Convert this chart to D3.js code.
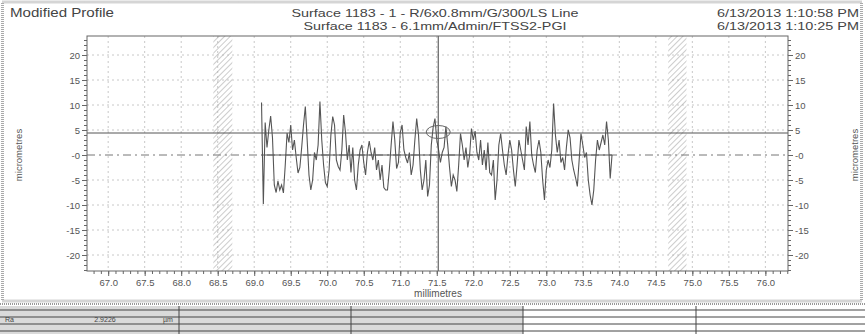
<!DOCTYPE html>
<html>
<head>
<meta charset="utf-8">
<script src="https://cdn.jsdelivr.net/npm/d3@7"></script>
<style>
  body { margin: 0; background: #fff; }
  svg { font-family: "Liberation Sans", Arial, sans-serif; }
  .tick text { fill: #555; }
</style>
</head>
<body>
<svg class="profileChart" width="865" height="334"></svg>
<script>
// profile samples, 0.025 mm apart starting at 69.1 mm (micrometres)
const profileStart = 69.1;
const profileStep = 0.025;
const profileValues = [
  10.5, -9.8, 6.5, 1.5, 5.0, 7.8, 3.5, -6.0, -7.5, -5.2,
  -7.0, -6.0, -7.6, -2.0, 4.4, 2.5, 6.0, 1.0, 3.0, -0.5,
  -3.6, -2.5, 1.5, 6.0, 9.7, 3.0, -4.0, -7.0, -5.0, 0.5,
  -1.0, 2.0, 10.7, 3.0, -2.0, -5.5, -6.3, -3.0, 4.0, 7.7,
  6.0, -1.0, -2.3, -3.0, 1.0, 8.0, 4.5, -1.0, 2.0, -3.5,
  1.5, -5.0, -7.0, -2.0, 1.0, 2.0, -1.5, -4.0, 0.5, 2.8,
  0.5, -1.0, 1.5, -3.0, -1.0, -5.0, -2.0, -6.5, -7.0, -7.0,
  -3.0, 2.0, 6.7, 3.0, -2.7, -1.5, 4.5, 6.0, 1.0, -0.5,
  -1.6, 0.5, -4.0, -2.0, 3.0, 7.3, 4.0, -3.0, -7.0, -5.0,
  -1.0, -8.3, -6.0, 2.0, 5.5, 7.3, 3.0, 1.0, -1.5, 0.5,
  1.5, 5.7, 2.0, -2.5, -6.3, -4.0, -5.0, -7.3, -2.0, 4.3,
  2.0, -1.0, 1.5, -2.5, 0.0, 5.3, 3.0, 4.8, 0.5, -1.0,
  3.0, -2.0, 1.0, -3.0, 2.5, -3.5, -4.0, -1.0, -9.0, -5.0,
  2.0, 4.3, 1.0, -2.0, -4.0, 0.0, 3.0, 1.0, -3.0, -6.3,
  -2.0, 3.0, 1.0, -1.0, -3.0, 5.7, 2.0, 6.7, 0.0, -2.0,
  -3.5, 1.0, 3.0, 0.5, -5.0, -9.0, -3.0, -1.0, -2.5, 1.0,
  10.3, 4.0, 0.5, 3.0, -1.5, -0.5, -3.0, 1.5, 5.0, 3.5,
  -1.0, -3.0, -4.5, -6.3, -1.0, 4.3, 2.0, -0.5, 0.5, -5.0,
  -8.0, -10.0, -7.0, -1.0, 3.0, 1.0, 2.5, 4.0, 2.0, 6.7,
  3.0, -4.7, 0.0
];

const xDomain = [66.71, 76.31];
const yDomain = [-23.2, 23.8];
const xMajorTicks = d3.range(67, 76.01, 0.5);
const xMinorTicks = d3.range(66.8, 76.31, 0.1);
const yMajorTicks = [20, 15, 10, 5, 0, -5, -10, -15, -20];
const yMinorTicks = d3.range(-23, 24, 1);
const hatchBands = [[68.44, 68.70], [74.67, 74.92]];
const cursorX = 71.52;
const cursorY = 4.4;
const titleLines = ["Surface 1183 - 1 - R/6x0.8mm/G/300/LS Line", "Surface 1183 - 6.1mm/Admin/FTSS2-PGI"];
const dateLines = ["6/13/2013 1:10:58 PM", "6/13/2013 1:10:25 PM"];
const tableCols = [179, 351, 523, 696];
const tableRows = [310, 317, 324, 331];

const svg = d3.select(".profileChart");
const plot = { left: 87, right: 788, top: 36, bottom: 271 };

const x = d3.scaleLinear().domain(xDomain).range([plot.left, plot.right]);
const y = d3.scaleLinear().domain(yDomain).range([plot.bottom, plot.top]);

// hatch pattern for the excluded bands
const defs = svg.append("defs");
const pat = defs.append("pattern")
    .attr("id", "hatch")
    .attr("patternUnits", "userSpaceOnUse")
    .attr("width", 4).attr("height", 4)
    .attr("patternTransform", "rotate(45)");
pat.append("line")
    .attr("x1", 0).attr("y1", 0).attr("x2", 0).attr("y2", 4)
    .attr("stroke", "#aaa").attr("stroke-width", 1.2);

// outer frame of the report
svg.append("rect")
    .attr("x", 2.5).attr("y", 2).attr("width", 859).attr("height", 299)
    .attr("fill", "none").attr("stroke", "#aaa")
    .attr("stroke-width", 3).attr("stroke-dasharray", "1,1");

// titles (the reference text is stretched wide, so fix widths)
svg.append("text").attr("x", 10).attr("y", 17)
    .attr("font-size", 12.5).attr("fill", "#444")
    .attr("textLength", 104).attr("lengthAdjust", "spacingAndGlyphs")
    .text("Modified Profile");
const titleWidths = [287, 263];
titleLines.forEach((t, i) => {
    svg.append("text").attr("x", 435 - titleWidths[i] / 2).attr("y", 17 + i * 12.5)
        .attr("font-size", 11).attr("fill", "#444")
        .attr("textLength", titleWidths[i]).attr("lengthAdjust", "spacingAndGlyphs")
        .text(t);
});
dateLines.forEach((t, i) => {
    svg.append("text").attr("x", 717).attr("y", 17 + i * 12.5)
        .attr("font-size", 11).attr("fill", "#444")
        .attr("textLength", 142).attr("lengthAdjust", "spacingAndGlyphs")
        .text(t);
});

// grid
const grid = svg.append("g").attr("stroke", "#c8c8c8").attr("stroke-dasharray", "2,3");
grid.selectAll(".vg").data(xMajorTicks).enter().append("line")
    .attr("x1", d => x(d)).attr("x2", d => x(d))
    .attr("y1", plot.top).attr("y2", plot.bottom);
grid.selectAll(".hg").data(yMajorTicks.filter(d => d !== 0)).enter().append("line")
    .attr("x1", plot.left).attr("x2", plot.right)
    .attr("y1", d => y(d)).attr("y2", d => y(d));

// hatched bands
svg.selectAll(".band").data(hatchBands).enter().append("rect")
    .attr("x", d => x(d[0])).attr("width", d => x(d[1]) - x(d[0]))
    .attr("y", plot.top).attr("height", plot.bottom - plot.top)
    .attr("fill", "url(#hatch)");

// zero line (dash-dot) and mean line over the profile
svg.append("line")
    .attr("x1", plot.left).attr("x2", plot.right)
    .attr("y1", y(0)).attr("y2", y(0))
    .attr("stroke", "#777").attr("stroke-dasharray", "8,4,2,4");
const profileEnd = profileStart + (profileValues.length - 1) * profileStep;
svg.append("line")
    .attr("x1", x(profileStart)).attr("x2", x(profileEnd))
    .attr("y1", y(0)).attr("y2", y(0))
    .attr("stroke", "#555");

// profile
const line = d3.line()
    .x((d, i) => x(profileStart + i * profileStep))
    .y(d => y(d));
svg.append("path")
    .datum(profileValues)
    .attr("d", line)
    .attr("fill", "none")
    .attr("stroke", "#555")
    .attr("stroke-width", 1.1);

// cursor lines and marker
svg.append("line")
    .attr("x1", plot.left).attr("x2", plot.right)
    .attr("y1", y(cursorY)).attr("y2", y(cursorY))
    .attr("stroke", "#555");
svg.append("line")
    .attr("x1", x(cursorX)).attr("x2", x(cursorX))
    .attr("y1", plot.top).attr("y2", plot.bottom)
    .attr("stroke", "#444");
svg.append("ellipse")
    .attr("cx", x(cursorX)).attr("cy", y(cursorY) - 1)
    .attr("rx", 12).attr("ry", 6.5)
    .attr("fill", "none").attr("stroke", "#666");

// plot frame
svg.append("rect")
    .attr("x", plot.left).attr("y", plot.top)
    .attr("width", plot.right - plot.left).attr("height", plot.bottom - plot.top)
    .attr("fill", "none").attr("stroke", "#666");

const fmtY = d => (d === 0 ? "-0" : d);

function styleAxis(g) {
    g.select(".domain").remove();
    g.selectAll(".tick line").attr("stroke", "#666");
    g.selectAll(".tick text").attr("font-size", 9.5);
}

// y axes
svg.append("g").attr("transform", `translate(${plot.left},0)`)
    .call(d3.axisLeft(y).tickValues(yMinorTicks).tickSize(3).tickFormat(""))
    .call(styleAxis);
svg.append("g").attr("transform", `translate(${plot.left},0)`)
    .call(d3.axisLeft(y).tickValues(yMajorTicks).tickSize(5).tickPadding(2).tickFormat(fmtY))
    .call(styleAxis);
svg.append("g").attr("transform", `translate(${plot.right},0)`)
    .call(d3.axisRight(y).tickValues(yMinorTicks).tickSize(3).tickFormat(""))
    .call(styleAxis);
svg.append("g").attr("transform", `translate(${plot.right},0)`)
    .call(d3.axisRight(y).tickValues(yMajorTicks).tickSize(5).tickPadding(2).tickFormat(fmtY))
    .call(styleAxis);

// x axis
svg.append("g").attr("transform", `translate(0,${plot.bottom})`)
    .call(d3.axisBottom(x).tickValues(xMinorTicks).tickSize(3).tickFormat(""))
    .call(styleAxis);
svg.append("g").attr("transform", `translate(0,${plot.bottom})`)
    .call(d3.axisBottom(x).tickValues(xMajorTicks).tickSize(5).tickPadding(3).tickFormat(d3.format(".1f")))
    .call(styleAxis);

// axis titles
svg.append("text").attr("x", 438).attr("y", 297)
    .attr("text-anchor", "middle").attr("font-size", 10).attr("fill", "#555").text("millimetres");
svg.append("text").attr("transform", `translate(22,${y(0)}) rotate(-90)`)
    .attr("text-anchor", "middle").attr("font-size", 9.5).attr("fill", "#555").text("micrometres");
svg.append("text").attr("transform", `translate(858,${y(0)}) rotate(-90)`)
    .attr("text-anchor", "middle").attr("font-size", 9.5).attr("fill", "#555").text("micrometres");

// results table
svg.append("rect").attr("x", 0).attr("y", 303).attr("width", 865).attr("height", 31).attr("fill", "#fff");
svg.append("rect").attr("x", 0).attr("y", 306).attr("width", tableCols[2]).attr("height", 28).attr("fill", "#dadada");
svg.append("line").attr("x1", 0).attr("x2", 865).attr("y1", 304).attr("y2", 304)
    .attr("stroke", "#999").attr("stroke-width", 2).attr("stroke-dasharray", "1,1");
svg.selectAll(".trow").data(tableRows).enter().append("line")
    .attr("x1", 0).attr("x2", 865).attr("y1", d => d).attr("y2", d => d)
    .attr("stroke", "#444");
svg.selectAll(".tcol").data(tableCols).enter().append("line")
    .attr("x1", d => d).attr("x2", d => d).attr("y1", 306).attr("y2", 334)
    .attr("stroke", "#444");
svg.append("text").attr("x", 5).attr("y", 322).attr("font-size", 7).attr("fill", "#444").text("Ra");
svg.append("text").attr("x", 105).attr("y", 322).attr("font-size", 7).attr("text-anchor", "middle").attr("fill", "#444").text("2.9226");
svg.append("text").attr("x", 163).attr("y", 322).attr("font-size", 7).attr("fill", "#444").text("µm");
</script>
</body>
</html>
